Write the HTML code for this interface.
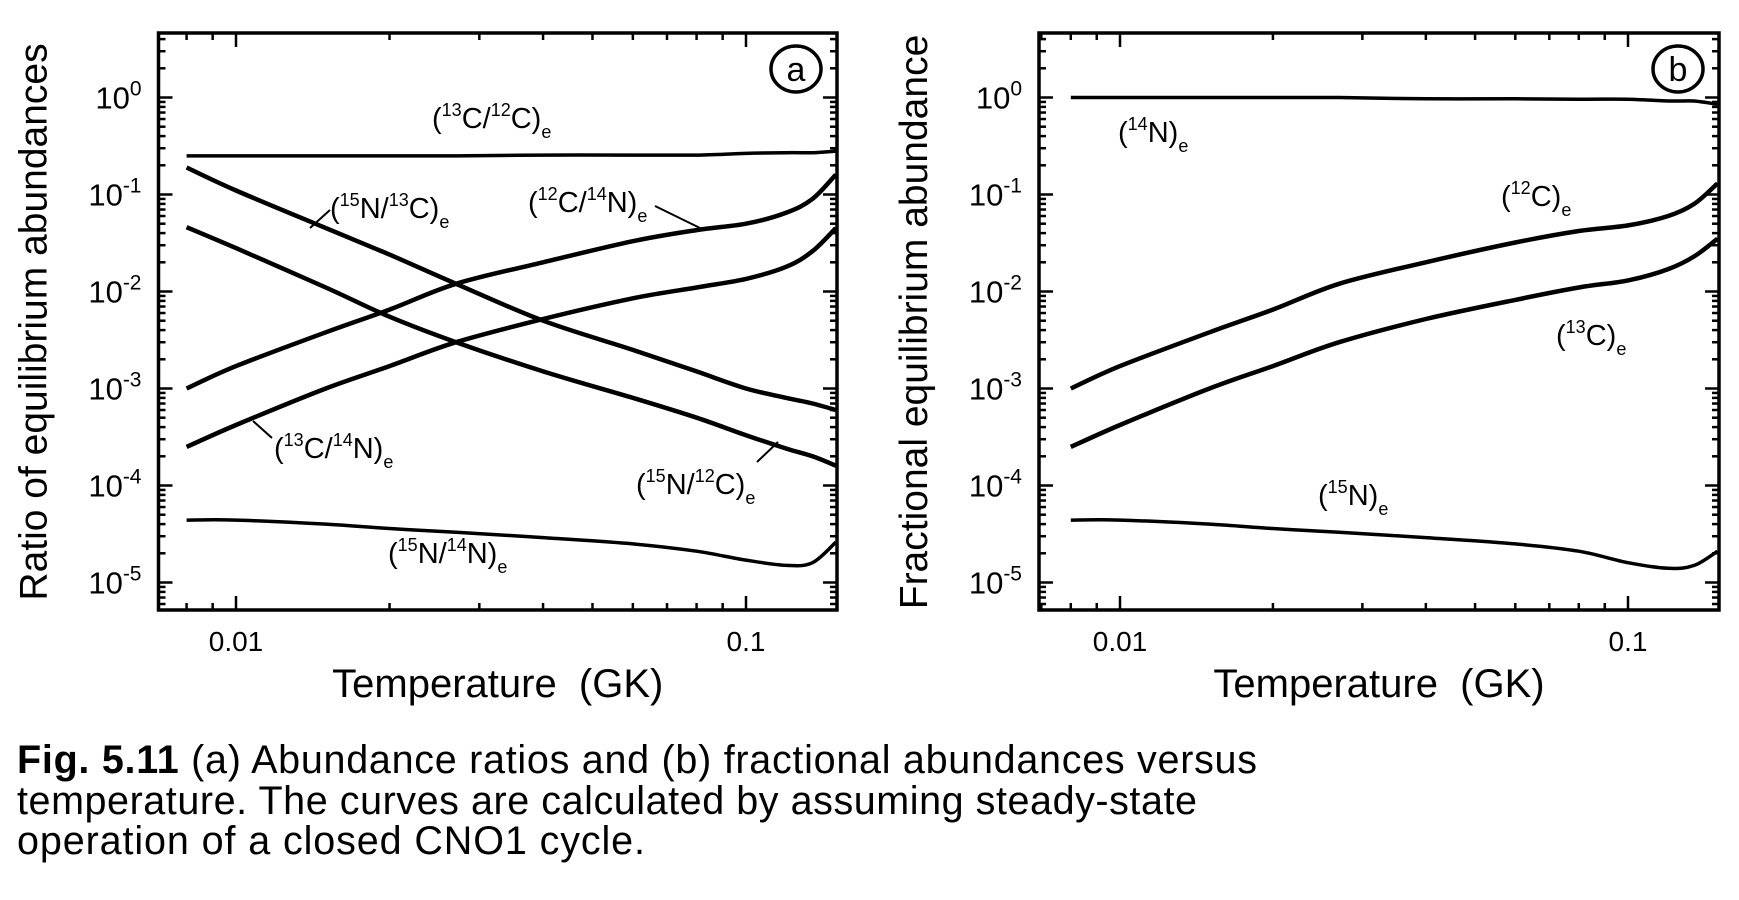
<!DOCTYPE html>
<html><head><meta charset="utf-8"><style>
body{margin:0;background:#fff;}
svg text{font-family:"Liberation Sans",Arial,sans-serif;fill:#000;}
</style></head><body>
<svg id="fig" width="1739" height="895" viewBox="0 0 1739 895" xmlns="http://www.w3.org/2000/svg">
<g id="pa"></g>
<g id="pb"></g>
<text x="17" y="773" font-size="39.5" textLength="1240" lengthAdjust="spacing"><tspan font-weight="bold">Fig. 5.11</tspan>  (a) Abundance ratios and (b) fractional abundances versus</text>
<text x="17" y="814" font-size="39.5" textLength="1180" lengthAdjust="spacing">temperature. The curves are calculated by assuming steady-state</text>
<text x="17" y="854" font-size="39.5" textLength="628" lengthAdjust="spacing">operation of a closed CNO1 cycle.</text>
</svg>
<script>
const temps = [0.008,0.01,0.015,0.02,0.027,0.04,0.06,0.08,0.1,0.12,0.135,0.15];
const r13C12C = [0.25,0.25,0.25,0.25,0.25,0.255,0.255,0.255,0.265,0.27,0.27,0.28];
const r15N13C = [0.19,0.11,0.045,0.024,0.012,0.005,0.0025,0.0015,0.001,0.0008,0.0007,0.0006];
const r15N12C = [0.046,0.028,0.011,0.0055,0.003,0.0015,0.0008,0.0005,0.00033,0.00024,0.0002,0.00016];
const r12C14N = [0.001,0.0017,0.0038,0.0065,0.012,0.02,0.033,0.043,0.05,0.065,0.09,0.16];
const r13C14N = [0.00025,0.00042,0.001,0.0017,0.003,0.0052,0.0085,0.011,0.0135,0.018,0.026,0.045];
const r15N14N = [4.4e-5,4.4e-5,4e-5,3.6e-5,3.3e-5,2.9e-5,2.5e-5,2.1e-5,1.7e-5,1.5e-5,1.6e-5,2.6e-5];
const f14N = [1,1,1,1,1,0.97,0.97,0.96,0.96,0.92,0.92,0.85];
const f12C = [0.001,0.0017,0.0038,0.0065,0.012,0.02,0.032,0.042,0.048,0.06,0.08,0.13];
const f13C = [0.00025,0.00042,0.001,0.0017,0.003,0.0052,0.0082,0.011,0.013,0.017,0.023,0.035];
const f15N = [4.4e-5,4.4e-5,4e-5,3.6e-5,3.3e-5,2.9e-5,2.5e-5,2.1e-5,1.6e-5,1.4e-5,1.5e-5,2.1e-5];
const xTickLabels = ["0.01","0.1"];
const yExps = ["0","-1","-2","-3","-4","-5"];

const NS="http://www.w3.org/2000/svg";
function mk(tag,attrs,parent){const e=document.createElementNS(NS,tag);for(const k in attrs)e.setAttribute(k,attrs[k]);parent.appendChild(e);return e;}

function panel(g,L,R,T,B,x01,x1,ytitle,letter){
  const xMinLog=-2-(x01-L)/(x1-x01), xMaxLog=-2+(R-x01)/(x1-x01);
  const y0=97.5, dec=97;
  const X=v=>x01+(Math.log10(v)+2)*(x1-x01);
  const Y=v=>y0-Math.log10(v)*dec;
  const fr=mk('rect',{x:L,y:T,width:R-L,height:B-T,fill:'none',stroke:'#000','stroke-width':3.5},g);
  
  
  for(let d=-3;d<=-1;d++)for(let m=1;m<=9;m++){
    const v=m*Math.pow(10,d);const lv=Math.log10(v);
    if(lv<xMinLog||lv>xMaxLog)continue;
    const x=X(v),len=m==1?14:7;
    const t1=mk('line',{x1:x,y1:B,x2:x,y2:B-len,stroke:'#000','stroke-width':2.5},g);
    
    
    mk('line',{x1:x,y1:T,x2:x,y2:T+len,stroke:'#000','stroke-width':2.5},g);
  }
  for(let d=-6;d<=0;d++)for(let m=1;m<=9;m++){
    const v=m*Math.pow(10,d);const y=Y(v);
    if(y<T||y>B)continue;
    const len=m==1?14:7;
    const t2=mk('line',{x1:L,y1:y,x2:L+len,y2:y,stroke:'#000','stroke-width':2.5},g);
    
    
    mk('line',{x1:R,y1:y,x2:R-len,y2:y,stroke:'#000','stroke-width':2.5},g);
  }
  yExps.forEach(e=>{
    const t=mk('text',{x:L-17,y:Y(Math.pow(10,+e))+11,'font-size':31,'text-anchor':'end'},g);
    
    
    t.innerHTML='10<tspan dy="-13" font-size="21">'+e+'</tspan>';
  });
  xTickLabels.forEach(s=>{
    const t=mk('text',{x:X(+s),y:651,'font-size':28,'text-anchor':'middle'},g);
    
    
    t.textContent=s;
  });
  const xt=mk('text',{x:(L+R)/2,y:697,'font-size':40,'text-anchor':'middle'},g);
  
  
  xt.textContent='Temperature\u00a0 (GK)';
  const yt=mk('text',{x:0,y:0,'font-size':39,'text-anchor':'middle',transform:`translate(${L-112},322) rotate(-90)`},g);
  
  
  yt.textContent=ytitle;
  const c=mk('ellipse',{cx:R-41,cy:69,rx:25,ry:23,fill:'none',stroke:'#000','stroke-width':3.5},g);
  
  
  const lt=mk('text',{x:R-41,y:81,'font-size':34,'text-anchor':'middle'},g);
  
  
  lt.textContent=letter;
  return {X,Y};
}
function curve(g,ax,vals,name,w){
  const P=temps.map((t,i)=>[ax.X(t),ax.Y(vals[i])]);
  let d='M'+P[0][0].toFixed(1)+','+P[0][1].toFixed(1);
  for(let i=0;i<P.length-1;i++){
    const p0=P[Math.max(0,i-1)],p1=P[i],p2=P[i+1],p3=P[Math.min(P.length-1,i+2)];
    const c1=[p1[0]+(p2[0]-p0[0])/6,p1[1]+(p2[1]-p0[1])/6];
    const c2=[p2[0]-(p3[0]-p1[0])/6,p2[1]-(p3[1]-p1[1])/6];
    d+=' C'+c1.map(v=>v.toFixed(1)).join(',')+' '+c2.map(v=>v.toFixed(1)).join(',')+' '+p2.map(v=>v.toFixed(1)).join(',');
  }
  const p=mk('path',{d:d,fill:'none',stroke:'#000','stroke-width':w||4.5,'stroke-linejoin':'round'},g);
  
  
}
function label(g,x,y,html,name){
  const t=mk('text',{x:x,y:y,'font-size':29},g);
  
  
  t.innerHTML=html;
}
function lead(g,x1,y1,x2,y2){
  const l=mk('line',{x1,y1,x2,y2,stroke:'#000','stroke-width':2},g);
  
  
}
const sup=s=>'<tspan dy="-12" font-size="18">'+s+'</tspan><tspan dy="12">';
const sub='</tspan><tspan dy="10" font-size="18">e</tspan>';

const ga=document.getElementById('pa');
const A=panel(ga,158.5,837,33,610,236,746,'Ratio of equilibrium abundances','a');
curve(ga,A,r13C12C,'curve-13C-12C',3.5);
curve(ga,A,r15N13C,'curve-15N-13C');
curve(ga,A,r15N12C,'curve-15N-12C');
curve(ga,A,r12C14N,'curve-12C-14N');
curve(ga,A,r13C14N,'curve-13C-14N');
curve(ga,A,r15N14N,'curve-15N-14N',3.5);
label(ga,432,128,'('+sup('13')+'C/'+sup('12')+'C)'+sub,'label-13C-12C');
label(ga,330,218,'('+sup('15')+'N/'+sup('13')+'C)'+sub,'label-15N-13C');
lead(ga,330,210,310,228);
label(ga,528,212,'('+sup('12')+'C/'+sup('14')+'N)'+sub,'label-12C-14N');
lead(ga,655,206,700,228);
label(ga,274,458,'('+sup('13')+'C/'+sup('14')+'N)'+sub,'label-13C-14N');
lead(ga,272,438,253,421);
label(ga,636,494,'('+sup('15')+'N/'+sup('12')+'C)'+sub,'label-15N-12C');
lead(ga,757,462,778,442);
label(ga,388,563,'('+sup('15')+'N/'+sup('14')+'N)'+sub,'label-15N-14N');

const gb=document.getElementById('pb');
const Bx=panel(gb,1039,1719,33,610,1120,1628,'Fractional equilibrium abundance','b');
curve(gb,Bx,f14N,'curve-14N',3.5);
curve(gb,Bx,f12C,'curve-12C');
curve(gb,Bx,f13C,'curve-13C');
curve(gb,Bx,f15N,'curve-15N',3.5);
label(gb,1118,142,'('+sup('14')+'N)'+sub,'label-14N');
label(gb,1501,206,'('+sup('12')+'C)'+sub,'label-12C');
label(gb,1556,345,'('+sup('13')+'C)'+sub,'label-13C');
label(gb,1318,505,'('+sup('15')+'N)'+sub,'label-15N');
</script>
</body></html>
